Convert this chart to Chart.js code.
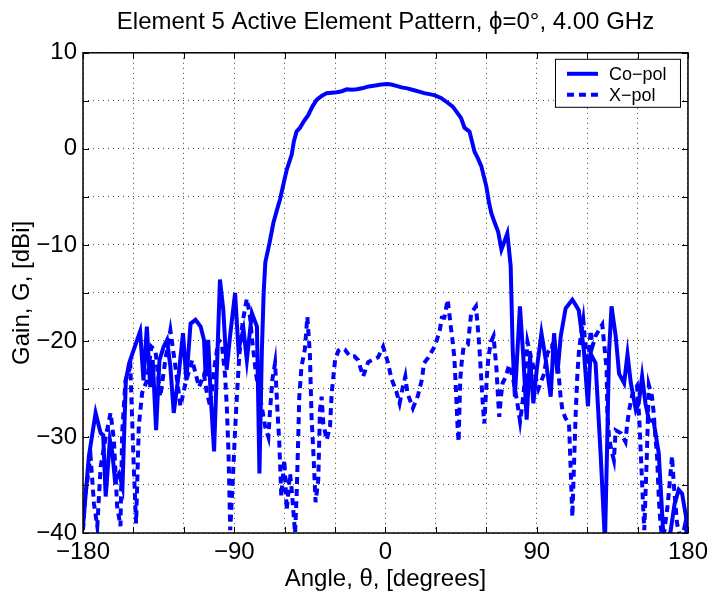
<!DOCTYPE html>
<html><head><meta charset="utf-8">
<script src="https://cdn.jsdelivr.net/npm/chart.js@4/dist/chart.umd.min.js"></script>
<style>html,body{margin:0;padding:0;background:#fff;}canvas{display:block}</style>
</head><body>
<canvas id="c" width="713" height="594"></canvas>
<script>
// ---- data ----
const coAngle = [-180,-179,-176.5,-172.5,-169.5,-168,-166.5,-164,-162.5,-161,-158.5,-156.5,-154.5,-152.5,-150,-146,-144,-142,-140,-138.5,-136.5,-134.5,-132,-130,-128,-126,-123,-120.5,-118.5,-116,-113,-110,-108,-107,-105.5,-104,-102,-100,-98.5,-96.5,-94.5,-92.5,-89.5,-87.5,-84.5,-82.5,-79.5,-76.5,-75,-73.6,-72.5,-71.5,-69,-66.7,-64.5,-62.8,-60.5,-58.8,-55.8,-54.5,-52.9,-50.9,-48.5,-46,-43.5,-41,-38,-35,-32,-29,-26,-23,-20,-17,-14,-10,-6,-2.5,1,3.5,6.5,9.5,13,17,20,23,26,29,33,37,40,43,45,47,50,53,55,57,60,61.5,63,65,67,69,72.5,74.5,75.7,77,80,82,84,86,88,90,92.8,95.4,98.3,100.3,102.3,104.3,107.2,109,111.2,113,115,118,120.5,122,125,128,130.6,132,133,134.5,137,139,142,144,146,149,150.7,152.7,154.7,156.7,159.6,162.6,165.6,169.5,172,174.5,176.5,180];
const coGain = [-39.3,-37.2,-32,-27.5,-29.6,-29.8,-36.2,-30.3,-31.7,-34.5,-33.8,-35.2,-24.1,-22.3,-21,-19,-24.1,-18.5,-24.8,-22,-29.3,-22,-20.6,-19.9,-22.7,-27.5,-23.4,-19.2,-24.1,-18.2,-17.8,-18.5,-19.9,-23.7,-19.9,-25.8,-31.5,-21.3,-13.6,-16.8,-23,-19.5,-15,-20.9,-18.8,-22,-17.1,-18.5,-33.8,-21.3,-15,-11.8,-9.8,-7.7,-6.3,-5.3,-3.5,-2.2,-0.6,0.8,1.8,2.2,2.9,3.5,4.4,5.1,5.5,5.8,5.85,5.9,6.0,6.2,6.15,6.2,6.3,6.5,6.6,6.7,6.75,6.7,6.55,6.4,6.3,6.1,5.95,5.8,5.7,5.6,5.3,4.8,4.4,3.7,3.2,2.2,1.8,-0.3,-1,-1.8,-3.9,-5.5,-6.7,-7.7,-8.6,-10.5,-8.8,-12.2,-20.9,-25.8,-16.4,-21.6,-28.2,-21.6,-26.5,-23,-19.2,-22,-25.8,-19.2,-23.4,-19.5,-16.6,-16.2,-15.7,-16.2,-16.8,-20.9,-26.8,-21.3,-22.3,-31.7,-41,-30,-21.3,-16.4,-19.5,-23.4,-24.4,-21.4,-24.4,-27.2,-26.5,-23.7,-26.5,-28.2,-28.4,-31.7,-41,-40,-37,-35.5,-35.9,-39.5];
const xAngle = [-180,-178.5,-175.5,-173.5,-171.5,-169.5,-166.5,-163.6,-161.6,-159.7,-157.7,-156.7,-154.7,-151.8,-149.8,-148.4,-146.8,-144.8,-141.9,-139.3,-136.9,-134,-131,-128,-125,-122,-119,-115,-111,-108,-106.3,-104.3,-102,-99.4,-97.4,-95.4,-94.4,-93.4,-92.4,-91,-89.5,-88.5,-87,-85,-82.5,-80.6,-79.6,-77,-74,-71.5,-69.7,-68.7,-67.3,-65.7,-64.3,-63.2,-62,-60.2,-58.8,-56.8,-55.8,-53.8,-52.9,-51.9,-51.3,-50,-48,-46.5,-45,-44,-43,-41.6,-40,-39,-38,-37,-35,-33,-32,-31,-30,-28,-26.2,-24.2,-21.2,-18.5,-16.3,-13.3,-10.3,-7,-4.4,-1.4,1.5,3.5,6.5,8.4,10.4,11.8,13,16.3,19.3,21.7,22.9,25.2,29.2,32.2,33.5,35,37,39,40,41,42,43,43.5,44.5,45.3,46.5,49,51,53.8,54.8,56,57,58,58.8,60.4,61.2,62.7,64.3,65.1,66.1,67,67.7,68.7,69.7,71.6,73.6,76,78.5,80.1,81.5,83,84.5,87,89,91,94.4,96.3,99,101,102.3,104.2,105.3,107,109.2,110.2,111.2,112.6,113.2,114.2,115.2,116.5,117.7,119,120.5,122.1,123.1,125,127.6,129,130.5,131.6,132,133,134.3,135.9,137,140,142.8,143.8,145,147,149.7,151,152,153,154,155.5,156.7,158.6,159.6,160.6,161.6,162.6,163.6,165,168,170.5,171.5,172.5,173.5,176,178.4,180];
const xGain = [-39.7,-35.9,-32,-36.9,-39.3,-33.1,-30,-27.5,-30.3,-37.2,-39.3,-29.6,-24.1,-22.7,-33.1,-39,-28.9,-25.4,-24.1,-20.6,-21,-25.8,-22,-18.9,-22.7,-26.8,-24.4,-22,-24.8,-23.5,-25.4,-26.8,-23,-19.9,-20.2,-23.7,-27,-31.7,-39.7,-35,-29.3,-26,-21.5,-18,-15.6,-17.5,-19.5,-23.5,-26.5,-29,-30,-27.2,-24,-22.3,-27.2,-30.6,-36.2,-32.4,-37.6,-33.8,-35.5,-40,-36.2,-30,-25.8,-22.7,-20.9,-17.5,-21.3,-27.9,-31.3,-36.8,-34.5,-27.2,-25.8,-28.6,-30.3,-28.9,-25.4,-23.7,-22,-21,-20.8,-20.9,-21.6,-21.6,-22,-23.7,-22.2,-21.9,-21.7,-20.6,-22.3,-23.9,-25.3,-26.5,-24.7,-23.7,-25.4,-27,-25.7,-24,-22.3,-21.8,-20.6,-19,-17.6,-17.6,-15.7,-18.7,-20.1,-21.8,-25.4,-29.3,-30.5,-24,-22.3,-20.6,-20.4,-17.1,-16.4,-18.3,-21,-24,-26.8,-28.6,-23.5,-21.8,-20.1,-19.5,-21.1,-23,-26,-27.9,-25.8,-24.4,-23.7,-22.5,-24,-26.5,-28.4,-26.5,-24,-20.1,-22,-23.5,-25,-23.4,-21.3,-20.5,-22,-22,-25.8,-27.2,-28,-28.6,-33.4,-38.3,-30.6,-27.5,-23.4,-20.9,-19.2,-17.8,-20.5,-22.5,-18.9,-20.6,-19.5,-18.7,-18.3,-21,-23,-27.5,-30,-31.3,-32.4,-29.3,-29.6,-30.5,-28.7,-27.2,-25.5,-24.7,-28,-32,-36,-39.7,-32,-24.6,-25.8,-27.5,-30,-32,-36.2,-39,-41,-37,-32,-34.8,-36.9,-39,-41,-39,-41];
const seriesNames = ['Co\u2212pol', 'X\u2212pol'];
const xTickLabels = [-180, -90, 0, 90, 180];
const yTickLabels = [-40, -30, -20, -10, 0, 10];
const chartTitle = 'Element 5 Active Element Pattern, \u03D5=0\u00B0, 4.00 GHz';
const xTitle = 'Angle, \u03B8, [degrees]';
const yTitle = 'Gain, G, [dBi]';

const FONT = '"Liberation Sans", Arial, Helvetica, sans-serif';
const toPts = (xs, ys) => xs.map((v, i) => ({x: v, y: ys[i]}));
const fmt = v => (v < 0 ? '\u2212' + Math.abs(v) : String(v));

const framePlugin = {
  id: 'frame',
  afterDatasetsDraw(chart) {
    const {ctx, chartArea: a, scales: {x, y}} = chart;
    ctx.save();
    ctx.strokeStyle = '#000';
    ctx.lineWidth = 1;
    ctx.beginPath();
    const L = 6;
    x.ticks.forEach(t => {
      const p = Math.round(x.getPixelForValue(t.value)) + 0.5;
      ctx.moveTo(p, a.bottom); ctx.lineTo(p, a.bottom - L);
      ctx.moveTo(p, a.top); ctx.lineTo(p, a.top + L);
    });
    y.ticks.forEach(t => {
      const p = Math.round(y.getPixelForValue(t.value)) + 0.5;
      ctx.moveTo(a.left, p); ctx.lineTo(a.left + L, p);
      ctx.moveTo(a.right, p); ctx.lineTo(a.right - L, p);
    });
    ctx.stroke();
    ctx.lineWidth = 1.5;
    ctx.strokeRect(a.left, a.top, a.right - a.left, a.bottom - a.top);
    // legend box
    const bw = 125, bh = 48;
    const bx = a.right - 8 - bw, by = a.top + 6;
    ctx.fillStyle = '#fff';
    ctx.fillRect(bx, by, bw, bh);
    ctx.lineWidth = 1;
    ctx.strokeRect(bx + 0.5, by + 0.5, bw, bh);
    ctx.font = '18px ' + FONT;
    ctx.textBaseline = 'middle';
    ctx.textAlign = 'left';
    chart.data.datasets.forEach((ds, i) => {
      const ly = by + 15 + i * 21;
      ctx.save();
      ctx.strokeStyle = ds.borderColor;
      ctx.lineWidth = ds.borderWidth;
      ctx.setLineDash(ds.borderDash || []);
      ctx.beginPath();
      ctx.moveTo(bx + 12, ly); ctx.lineTo(bx + 43, ly);
      ctx.stroke();
      ctx.restore();
      ctx.fillStyle = '#000';
      ctx.fillText(ds.label, bx + 54, ly + 1);
    });
    ctx.restore();
  }
};

new Chart(document.getElementById('c'), {
  type: 'line',
  data: {
    datasets: [
      {label: seriesNames[0], data: toPts(coAngle, coGain), borderColor: '#0000ff', borderWidth: 4, pointRadius: 0, tension: 0, fill: false, clip: 0},
      {label: seriesNames[1], data: toPts(xAngle, xGain), borderColor: '#0000ff', borderWidth: 4, borderDash: [7, 5], pointRadius: 0, tension: 0, fill: false, clip: 0}
    ]
  },
  options: {
    responsive: false,
    animation: false,
    layout: {padding: {left: 0, right: 22, top: 0, bottom: 0}},
    plugins: {
      legend: {display: false},
      tooltip: {enabled: false},
      title: {
        display: true, text: chartTitle, fullSize: false, color: '#000',
        font: {family: FONT, size: 24, weight: 'normal'},
        padding: {top: 8, bottom: 16}
      }
    },
    scales: {
      x: {
        type: 'linear', min: -180, max: 180,
        afterFit(s) { s.height = 61; },
        ticks: {
          stepSize: 30, autoSkip: false, maxRotation: 0, color: '#000', padding: 5,
          font: {family: FONT, size: 24},
          callback: v => (xTickLabels.includes(v) ? fmt(v) : '')
        },
        grid: {color: 'rgba(0,0,0,0.75)', lineWidth: 1, drawTicks: false},
        border: {display: false, dash: [1, 4]},
        title: {display: true, text: xTitle, color: '#000', font: {family: FONT, size: 24}, padding: {top: 2, bottom: 0}}
      },
      y: {
        type: 'linear', min: -40, max: 10,
        afterFit(s) { s.width = 83; },
        ticks: {
          stepSize: 5, color: '#000', padding: 6,
          font: {family: FONT, size: 24},
          callback: v => (yTickLabels.includes(v) ? fmt(v) : '')
        },
        grid: {color: 'rgba(0,0,0,0.75)', lineWidth: 1, drawTicks: false},
        border: {display: false, dash: [1, 4]},
        title: {display: true, text: yTitle, color: '#000', font: {family: FONT, size: 24}, padding: {top: 8, bottom: 0}}
      }
    }
  },
  plugins: [framePlugin]
});
</script>
</body></html>
